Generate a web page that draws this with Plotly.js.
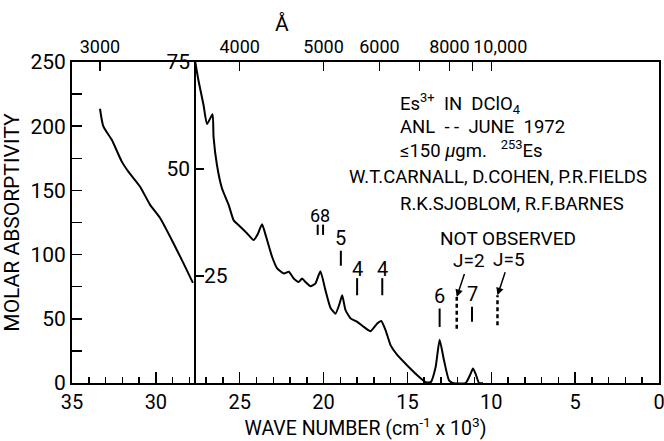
<!DOCTYPE html>
<html>
<head>
<meta charset="utf-8">
<script src="https://cdn.plot.ly/plotly-3.0.1.min.js"></script>
<style>html,body{margin:0;padding:0;background:#fff;}#chart{width:664px;height:441px;}</style>
</head>
<body>
<div id="chart"></div>
<script>
// UV-visible segment (left scale 0-250)
const uvX = [33.33, 33.13, 32.63, 32.03, 31.64, 30.94, 30.34, 29.74, 28.95, 28.35, 27.79];
const uvY = [213.6, 199.8, 189.4, 172.4, 164.6, 152.9, 138.7, 128.3, 108.8, 93.2, 78.0];

// Visible / near-IR segment (inner scale 0-75)
const visX = [27.65, 27.45, 27.16, 26.95, 26.62, 26.56, 26.36, 26.06, 25.66, 25.36, 25.07, 24.57, 24.17, 23.92, 23.67, 23.45, 23.07, 22.77, 22.37, 22.07, 21.78, 21.48, 21.28, 21.08, 20.78, 20.48, 20.19, 19.89, 19.59, 19.29, 19.05, 18.89, 18.69, 18.39, 17.99, 17.60, 17.20, 16.80, 16.56, 16.30, 16.00, 15.60, 15.01, 14.41, 13.91, 13.61, 13.32, 13.08, 12.82, 12.52, 12.30, 11.53, 11.23, 11.09, 10.94, 10.73, 10.50];
const visY = [75.0, 70.5, 65.0, 60.5, 62.8, 57.5, 51.0, 45.5, 41.6, 38.0, 36.9, 35.0, 33.4, 34.8, 37.1, 34.5, 29.5, 26.8, 25.6, 26.0, 24.4, 23.6, 24.4, 23.6, 22.6, 23.3, 26.1, 21.7, 17.6, 16.2, 18.5, 20.5, 17.0, 15.1, 14.3, 13.1, 12.1, 13.9, 14.5, 12.3, 8.8, 6.5, 4.1, 1.8, 0.2, 0.2, 3.7, 10.1, 5.3, 0.6, 0.0, 0.0, 2.2, 3.4, 2.2, 0.0, 0.0];

// J-level labels and their marker bars (inner scale)
const levelText = ['68', '5', '4', '4', '6', '7'];
const levelTextX = [20.2, 18.97, 18.0, 16.5, 13.08, 11.15];
const levelTextY = [39.2, 33.9, 26.6, 26.6, 20.3, 20.9];
const barX = [20.35, 20.03, 18.97, 18.0, 16.5, 13.08, 11.15];
const barY0 = [34.6, 34.6, 27.4, 20.5, 20.5, 13.1, 14.3];
const barY1 = [37.0, 37.0, 30.9, 24.5, 24.5, 17.4, 17.8];
const unobsX = [12.06, 9.63];
const unobsY0 = [12.7, 13.5];
const unobsY1 = [20.1, 20.5];
const unobsText = ['J=2', 'J=5'];

// Axis tick labels
const yTicks = [0, 50, 100, 150, 200, 250];
const y2Ticks = [25, 50, 75];
const y2TickText = ['', '50', '75'];
const xTicks = [35, 30, 25, 20, 15, 10, 5, 0];
const angstroms = [3000, 4000, 5000, 6000, 7000, 8000, 9000, 10000];
const angstromText = ['3000', '4000', '5000', '6000', '', '8000', '', ''];
const angstromEnd = [10000];
const angstromEndText = ['10,000'];

const FONT = 'Roboto, Liberation Sans, sans-serif';

function segs(xs, y0, y1) {
  const X = [], Y = [];
  xs.forEach((x, i) => { X.push(x, x, null); Y.push(y0[i], y1[i], null); });
  return {X, Y};
}
const bars = segs(barX, barY0, barY1);
const dashes = segs(unobsX, unobsY0, unobsY1);

const traces = [
  {x: uvX, y: uvY, xaxis: 'x', yaxis: 'y', mode: 'lines', line: {color: '#000', width: 2, shape: 'spline', smoothing: 0.6}, hoverinfo: 'skip'},
  {x: visX, y: visY, xaxis: 'x', yaxis: 'y2', mode: 'lines', line: {color: '#000', width: 2, shape: 'spline', smoothing: 0.5}, hoverinfo: 'skip'},
  {x: bars.X, y: bars.Y, xaxis: 'x3', yaxis: 'y2', mode: 'lines', line: {color: '#000', width: 2}, hoverinfo: 'skip'},
  {x: dashes.X, y: dashes.Y, xaxis: 'x2', yaxis: 'y2', mode: 'lines', line: {color: '#000', width: 2.5, dash: '4px,3px'}, hoverinfo: 'skip'}
];

const annotations = [];
levelText.forEach((t, i) => annotations.push({
  x: levelTextX[i], y: levelTextY[i], xref: 'x', yref: 'y2', text: t, showarrow: false,
  font: {family: FONT, size: i === 0 ? 18 : 20, color: '#000'}, xanchor: 'center', yanchor: 'middle'
}));
unobsText.forEach((t, i) => annotations.push({
  x: unobsX[i], y: unobsY1[i], xref: 'x', yref: 'y2', text: t, showarrow: true,
  ax: 12, ay: -36, arrowhead: 2, arrowsize: 1, arrowwidth: 1.5, arrowcolor: '#000',
  font: {family: FONT, size: 19, color: '#000'}
}));
const txt = (x, y, text, xa) => ({x: x, y: y, xref: 'paper', yref: 'paper', text: text, showarrow: false,
  xanchor: xa, yanchor: 'middle', font: {family: FONT, size: 18.5, color: '#000'}});
annotations.push(
  {x: 0.742, y: 0.449, xref: 'paper', yref: 'paper', text: 'NOT OBSERVED', showarrow: false, xanchor: 'center', yanchor: 'middle', font: {family: FONT, size: 19, color: '#000'}},
  {x: 0.358, y: 1.0, xref: 'paper', yref: 'paper', yshift: 38, text: 'Å', showarrow: false, xanchor: 'center', yanchor: 'middle', font: {family: FONT, size: 21, color: '#000'}},
  {x: 0.222, y: 25, xref: 'paper', yref: 'y2', text: '25', showarrow: false, xanchor: 'left', yanchor: 'middle', font: {family: FONT, size: 21, color: '#000'}},
  txt(0.555, 0.872, 'Es<sup>3+</sup>  IN  DClO<sub>4</sub>', 'left'),
  txt(0.555, 0.798, 'ANL  - -  JUNE  1972', 'left'),
  txt(0.555, 0.728, '≤150 <i>μ</i>gm.   <sup>253</sup>Es', 'left'),
  txt(0.468, 0.643, 'W.T.CARNALL, D.COHEN, P.R.FIELDS', 'left'),
  txt(0.555, 0.559, 'R.K.SJOBLOM, R.F.BARNES', 'left')
);

const topAxis = {
  overlaying: 'x', side: 'top', range: [35, 0], showgrid: false, zeroline: false,
  showline: true, linecolor: '#000', linewidth: 2,
  ticks: 'inside', ticklen: 9, tickwidth: 1.5, tickcolor: '#000',
  tickangle: 0, ticklabeloverflow: 'allow',
  tickfont: {family: FONT, size: 18}
};

const layout = {
  width: 664, height: 441,
  margin: {l: 72, r: 5, t: 62, b: 58},
  paper_bgcolor: '#fff', plot_bgcolor: '#fff',
  showlegend: false,
  font: {family: FONT, color: '#000'},
  xaxis: {
    range: [35, 0], showgrid: false, zeroline: false,
    showline: true, linecolor: '#000', linewidth: 2,
    ticks: 'inside', ticklen: 11, tickwidth: 1.5, tickcolor: '#000',
    tickvals: xTicks, ticktext: xTicks.map(String), tickangle: 0, ticklabeloverflow: 'allow',
    minor: {dtick: 1, ticks: 'inside', ticklen: 6, tickwidth: 1.5, tickcolor: '#000'},
    tickfont: {family: FONT, size: 20},
    title: {text: 'WAVE NUMBER (cm<sup>-1</sup> x 10<sup>3</sup>)', font: {family: FONT, size: 19.5}, standoff: 6}
  },
  xaxis2: Object.assign({}, topAxis, {
    tickvals: angstroms.map(a => 1e5 / a), ticktext: angstromText
  }),
  xaxis3: Object.assign({}, topAxis, {
    tickvals: angstromEnd.map(a => 1e5 / a), ticktext: angstromEndText, ticks: '', ticklabelshift: -9
  }),
  yaxis: {
    range: [0, 250], showgrid: false, zeroline: false,
    showline: true, mirror: true, linecolor: '#000', linewidth: 2,
    ticks: 'inside', ticklen: 10, tickwidth: 1.5, tickcolor: '#000',
    tickvals: yTicks, ticktext: yTicks.map(String), tickangle: 0,
    minor: {dtick: 25, ticks: 'inside', ticklen: 10, tickwidth: 1.5, tickcolor: '#000'},
    tickfont: {family: FONT, size: 21},
    title: {text: 'MOLAR ABSORPTIVITY', font: {family: FONT, size: 21}, standoff: 8}
  },
  yaxis2: {
    overlaying: 'y', anchor: 'free', position: (35 - 27.65) / 35, side: 'left',
    range: [0, 75], showgrid: false, zeroline: false,
    showline: true, linecolor: '#000', linewidth: 2,
    ticks: 'inside', ticklen: 8, tickwidth: 1.5, tickcolor: '#000',
    tickvals: y2Ticks, ticktext: y2TickText, tickangle: 0,
    tickfont: {family: FONT, size: 21}
  },
  annotations: annotations
};

Plotly.newPlot('chart', traces, layout, {displayModeBar: false, staticPlot: true});
</script>
</body>
</html>
